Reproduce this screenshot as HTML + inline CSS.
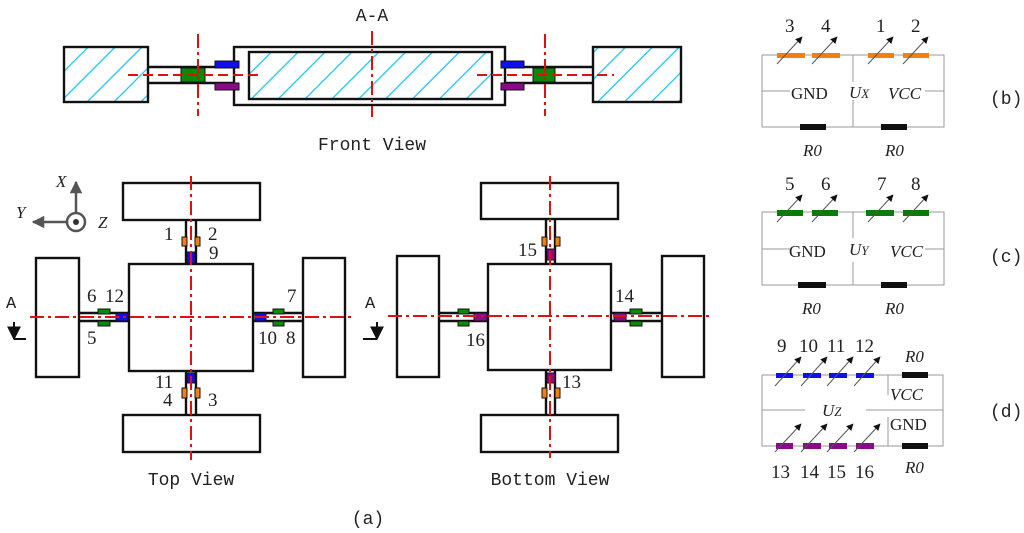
<!DOCTYPE html>
<html><head><meta charset="utf-8"><style>
html,body{margin:0;padding:0;background:#fff;}
svg{display:block;}
text{font-family:"Liberation Serif",serif;fill:#222;}
.m{font-family:"Liberation Mono",monospace;}
.i{font-style:italic;}
</style></head><body>
<svg width="1024" height="533" viewBox="0 0 1024 533" xmlns="http://www.w3.org/2000/svg">
<defs>
<pattern id="h" patternUnits="userSpaceOnUse" width="19" height="19" patternTransform="rotate(45)">
<line x1="0" y1="0" x2="0" y2="19" stroke="#1ec6f4" stroke-width="2.6"/>
</pattern>
<marker id="ar" viewBox="0 0 10 10" refX="9" refY="5" markerWidth="7" markerHeight="7" orient="auto-start-reverse"><path d="M0,0L10,5L0,10z" fill="#111"/></marker>
<marker id="ag" viewBox="0 0 10 10" refX="9" refY="5" markerWidth="5" markerHeight="5" orient="auto"><path d="M0,0L10,5L0,10z" fill="#555"/></marker>
</defs>

<!-- FRONT VIEW -->
<text x="372" y="21" font-size="18" text-anchor="middle" class="m">A-A</text>
<g stroke="#111" stroke-width="2.4">
<rect x="64" y="47" width="84" height="55" fill="url(#h)"/>
<rect x="593" y="47" width="88" height="55" fill="url(#h)"/>
<rect x="234" y="47" width="271" height="58" fill="#fff"/>
<rect x="249" y="52" width="243" height="47" fill="url(#h)"/>
<line x1="148" y1="67" x2="234" y2="67"/><line x1="148" y1="83" x2="234" y2="83"/>
<line x1="505" y1="67" x2="593" y2="67"/><line x1="505" y1="83" x2="593" y2="83"/>
</g>
<g stroke="#111" stroke-width="1">
<rect x="181" y="68" width="24" height="14" fill="#0a8a0a"/>
<rect x="533" y="68" width="22" height="14" fill="#0a8a0a"/>
<rect x="215" y="61" width="24" height="7" fill="#1010ee"/>
<rect x="215" y="83" width="24" height="7" fill="#8a0a8a"/>
<rect x="501" y="61" width="23" height="7" fill="#1010ee"/>
<rect x="501" y="83" width="23" height="7" fill="#8a0a8a"/>
</g>
<g stroke="#e01010" stroke-width="2" fill="none">
<line x1="198" y1="34" x2="198" y2="116" stroke-dasharray="14,4,3,4"/>
<line x1="372" y1="31" x2="372" y2="117" stroke-dasharray="14,4,3,4"/>
<line x1="545" y1="34" x2="545" y2="116" stroke-dasharray="14,4,3,4"/>
<line x1="128" y1="75" x2="263" y2="75" stroke-dasharray="10,5"/>
<line x1="477" y1="75" x2="614" y2="75" stroke-dasharray="10,5"/>
</g>
<text x="372" y="150" font-size="18" text-anchor="middle" class="m">Front View</text>

<!-- TOP VIEW -->
<g stroke="#111" stroke-width="2.4" fill="#fff">
<rect x="123" y="183" width="137" height="37"/>
<rect x="123" y="415" width="137" height="37"/>
<rect x="36" y="258" width="43" height="119"/>
<rect x="303" y="258" width="42" height="119"/>
<rect x="129" y="264" width="124" height="107"/>
<line x1="186" y1="220" x2="186" y2="264"/><line x1="196" y1="220" x2="196" y2="264"/>
<line x1="186" y1="371" x2="186" y2="415"/><line x1="196" y1="371" x2="196" y2="415"/>
<line x1="79" y1="313" x2="129" y2="313"/><line x1="79" y1="321" x2="129" y2="321"/>
<line x1="253" y1="313" x2="303" y2="313"/><line x1="253" y1="321" x2="303" y2="321"/>
</g>
<g stroke="#111" stroke-width="1">
<rect x="182" y="237" width="5" height="9" fill="#f08010"/><rect x="195" y="237" width="5" height="9" fill="#f08010"/>
<rect x="182" y="388" width="5" height="10" fill="#f08010"/><rect x="195" y="388" width="5" height="10" fill="#f08010"/>
<rect x="187" y="252" width="8" height="11" fill="#1010ee"/>
<rect x="187" y="373" width="8" height="10" fill="#1010ee"/>
<rect x="98" y="309" width="12" height="5" fill="#0a8a0a"/><rect x="98" y="321" width="12" height="5" fill="#0a8a0a"/>
<rect x="273" y="309" width="11" height="5" fill="#0a8a0a"/><rect x="273" y="321" width="11" height="5" fill="#0a8a0a"/>
<rect x="116" y="313" width="12" height="8" fill="#1010ee"/>
<rect x="255" y="313" width="11" height="8" fill="#1010ee"/>
</g>
<g stroke="#e01010" stroke-width="2" fill="none" stroke-dasharray="14,4,3,4">
<line x1="30" y1="317" x2="352" y2="317"/>
<line x1="191" y1="176" x2="191" y2="460"/>
</g>
<g font-size="19">
<text x="164" y="240">1</text><text x="208" y="240">2</text><text x="209" y="259">9</text>
<text x="87" y="302">6</text><text x="105" y="302">12</text><text x="287" y="302">7</text>
<text x="87" y="344">5</text><text x="258" y="344">10</text><text x="286" y="344">8</text>
<text x="155" y="388">11</text><text x="163" y="406">4</text><text x="208" y="406">3</text>
</g>
<text x="191" y="485" font-size="18" text-anchor="middle" class="m">Top View</text>

<!-- axes -->
<g stroke="#555" stroke-width="2.5" fill="none">
<line x1="76" y1="213" x2="76" y2="182" marker-end="url(#ag)"/>
<line x1="67" y1="222" x2="33" y2="222" marker-end="url(#ag)"/>
<circle cx="76" cy="222" r="9"/>
</g>
<circle cx="76" cy="222" r="3" fill="#333"/>
<g font-size="17" class="i"><text x="56" y="187">X</text><text x="16" y="218">Y</text><text x="98" y="228">Z</text></g>

<!-- A markers -->
<text x="6" y="308" font-size="17" class="m">A</text>
<path d="M14,339V322M14,339H26" stroke="#111" stroke-width="2" fill="none" marker-start="url(#ar)"/>
<text x="365" y="308" font-size="17" class="m">A</text>
<path d="M377,339V322M377,339H363" stroke="#111" stroke-width="2" fill="none" marker-start="url(#ar)"/>

<!-- BOTTOM VIEW -->
<g stroke="#111" stroke-width="2.4" fill="#fff">
<rect x="481" y="183" width="137" height="36"/>
<rect x="481" y="415" width="137" height="37"/>
<rect x="397" y="256" width="42" height="121"/>
<rect x="662" y="256" width="42" height="121"/>
<rect x="488" y="264" width="123" height="106"/>
<line x1="546" y1="219" x2="546" y2="264"/><line x1="555" y1="219" x2="555" y2="264"/>
<line x1="546" y1="370" x2="546" y2="415"/><line x1="555" y1="370" x2="555" y2="415"/>
<line x1="439" y1="313" x2="488" y2="313"/><line x1="439" y1="321" x2="488" y2="321"/>
<line x1="611" y1="313" x2="662" y2="313"/><line x1="611" y1="321" x2="662" y2="321"/>
</g>
<g stroke="#111" stroke-width="1">
<rect x="542" y="237" width="5" height="9" fill="#f08010"/><rect x="555" y="237" width="5" height="9" fill="#f08010"/>
<rect x="542" y="388" width="5" height="10" fill="#f08010"/><rect x="555" y="388" width="5" height="10" fill="#f08010"/>
<rect x="547" y="249" width="8" height="11" fill="#8a0a8a"/>
<rect x="547" y="373" width="8" height="10" fill="#8a0a8a"/>
<rect x="458" y="309" width="11" height="5" fill="#0a8a0a"/><rect x="458" y="321" width="11" height="5" fill="#0a8a0a"/>
<rect x="630" y="309" width="12" height="5" fill="#0a8a0a"/><rect x="630" y="321" width="12" height="5" fill="#0a8a0a"/>
<rect x="474" y="313" width="13" height="8" fill="#8a0a8a"/>
<rect x="614" y="313" width="12" height="8" fill="#8a0a8a"/>
</g>
<g stroke="#e01010" stroke-width="2" fill="none" stroke-dasharray="14,4,3,4">
<line x1="388" y1="316" x2="711" y2="316"/>
<line x1="550" y1="176" x2="550" y2="458"/>
</g>
<g font-size="19">
<text x="518" y="256">15</text><text x="615" y="302">14</text>
<text x="466" y="346">16</text><text x="562" y="388">13</text>
</g>
<text x="550" y="485" font-size="18" text-anchor="middle" class="m">Bottom View</text>

<text x="368" y="524" font-size="18" text-anchor="middle" class="m">(a)</text>

<!-- CIRCUIT (b) -->
<g stroke="#999" stroke-width="1" fill="none">
<path d="M762,55H944V127H762Z"/>
<path d="M853,55V82M853,100V127M762,91H790M925,91H944"/>
</g>
<g fill="#f08010">
<rect x="777" y="53" width="28" height="5"/><rect x="812" y="53" width="28" height="5"/>
<rect x="868" y="53" width="26" height="5"/><rect x="903" y="53" width="26" height="5"/>
</g>
<g fill="#111"><rect x="800" y="124" width="26" height="6"/><rect x="881" y="124" width="26" height="6"/></g>
<g stroke="#555" stroke-width="1">
<line x1="777" y1="64" x2="802" y2="37" marker-end="url(#ar)"/>
<line x1="812" y1="64" x2="837" y2="37" marker-end="url(#ar)"/>
<line x1="868" y1="64" x2="893" y2="37" marker-end="url(#ar)"/>
<line x1="903" y1="64" x2="928" y2="37" marker-end="url(#ar)"/>
</g>
<g font-size="19"><text x="785" y="32">3</text><text x="821" y="32">4</text><text x="876" y="32">1</text><text x="911" y="32">2</text></g>
<text x="791" y="99" font-size="17">GND</text>
<text x="849" y="98" font-size="17" class="i">U<tspan font-size="13">X</tspan></text>
<text x="888" y="99" font-size="17" class="i">VCC</text>
<text x="803" y="156" font-size="17" class="i">R0</text>
<text x="885" y="156" font-size="17" class="i">R0</text>
<text x="990" y="104" font-size="18" class="m">(b)</text>

<!-- CIRCUIT (c) -->
<g stroke="#999" stroke-width="1" fill="none">
<path d="M762,212H944V285H762Z"/>
<path d="M853,212V238M853,262V285M762,249H790M925,249H944"/>
</g>
<g fill="#0a7a0a">
<rect x="777" y="210" width="26" height="6"/><rect x="812" y="210" width="26" height="6"/>
<rect x="866" y="210" width="28" height="6"/><rect x="903" y="210" width="26" height="6"/>
</g>
<g fill="#111"><rect x="798" y="282" width="28" height="6"/><rect x="881" y="282" width="26" height="6"/></g>
<g stroke="#555" stroke-width="1">
<line x1="777" y1="222" x2="802" y2="195" marker-end="url(#ar)"/>
<line x1="812" y1="222" x2="837" y2="195" marker-end="url(#ar)"/>
<line x1="868" y1="222" x2="893" y2="195" marker-end="url(#ar)"/>
<line x1="903" y1="222" x2="928" y2="195" marker-end="url(#ar)"/>
</g>
<g font-size="19"><text x="785" y="190">5</text><text x="821" y="190">6</text><text x="877" y="190">7</text><text x="911" y="190">8</text></g>
<text x="789" y="257" font-size="17">GND</text>
<text x="849" y="255" font-size="17" class="i">U<tspan font-size="13">Y</tspan></text>
<text x="890" y="257" font-size="17" class="i">VCC</text>
<text x="802" y="314" font-size="17" class="i">R0</text>
<text x="885" y="314" font-size="17" class="i">R0</text>
<text x="990" y="262" font-size="18" class="m">(c)</text>

<!-- CIRCUIT (d) -->
<g stroke="#999" stroke-width="1" fill="none">
<path d="M762,375H943V446H762Z"/>
<path d="M888,375V395M888,417V446M762,410H805M866,410H943"/>
</g>
<g fill="#1010ee">
<rect x="776" y="373" width="17" height="5"/><rect x="803" y="373" width="18" height="5"/>
<rect x="829" y="373" width="18" height="5"/><rect x="856" y="373" width="18" height="5"/>
</g>
<g fill="#8a0a8a">
<rect x="776" y="443" width="17" height="6"/><rect x="803" y="443" width="18" height="6"/>
<rect x="829" y="443" width="18" height="6"/><rect x="856" y="443" width="18" height="6"/>
</g>
<g fill="#111"><rect x="902" y="372" width="26" height="6"/><rect x="902" y="443" width="26" height="6"/></g>
<g stroke="#555" stroke-width="1">
<line x1="775" y1="386" x2="801" y2="357" marker-end="url(#ar)"/>
<line x1="801" y1="386" x2="827" y2="357" marker-end="url(#ar)"/>
<line x1="827" y1="386" x2="853" y2="357" marker-end="url(#ar)"/>
<line x1="854" y1="386" x2="880" y2="357" marker-end="url(#ar)"/>
<line x1="775" y1="452" x2="801" y2="424" marker-end="url(#ar)"/>
<line x1="801" y1="452" x2="827" y2="424" marker-end="url(#ar)"/>
<line x1="827" y1="452" x2="853" y2="424" marker-end="url(#ar)"/>
<line x1="854" y1="452" x2="880" y2="424" marker-end="url(#ar)"/>
</g>
<g font-size="19"><text x="777" y="352">9</text><text x="799" y="352">10</text><text x="827" y="352">11</text><text x="855" y="352">12</text>
<text x="771" y="478">13</text><text x="800" y="478">14</text><text x="827" y="478">15</text><text x="855" y="478">16</text></g>
<text x="905" y="362" font-size="17" class="i">R0</text>
<text x="890" y="400" font-size="17" class="i">VCC</text>
<text x="890" y="430" font-size="17">GND</text>
<text x="905" y="473" font-size="17" class="i">R0</text>
<text x="822" y="416" font-size="17" class="i">U<tspan font-size="13">Z</tspan></text>
<text x="990" y="417" font-size="18" class="m">(d)</text>
</svg>
</body></html>
